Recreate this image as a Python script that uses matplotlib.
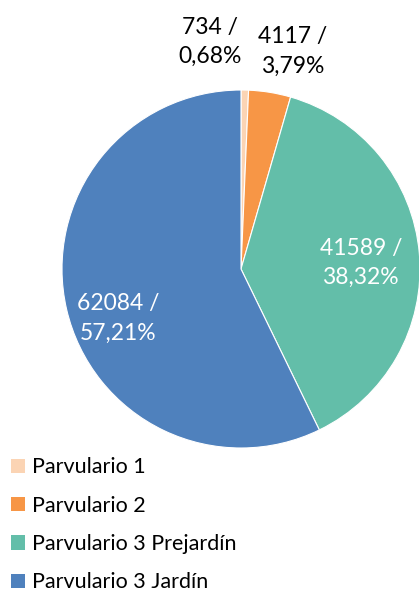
import numpy as np
import matplotlib.pyplot as plt
from matplotlib.patches import Patch

plt.rcParams['font.family'] = ['Lato', 'DejaVu Sans']

categories = ['Parvulario 1', 'Parvulario 2', 'Parvulario 3 Prejardín', 'Parvulario 3 Jardín']
values = [734, 4117, 41589, 62084]
percents = ['0,68%', '3,79%', '38,32%', '57,21%']
colors = ['#FBD4B4', '#F79646', '#63BEA9', '#4F81BD']

W, H = 419, 592
fig = plt.figure(figsize=(W / 100, H / 100), dpi=100)

# pie centre / radius in pixels
cx, cy, r = 241, 269, 179
ax = fig.add_axes([(cx - r) / W, (H - cy - r) / H, 2 * r / W, 2 * r / H])
wedges, _ = ax.pie(values, colors=colors, startangle=90, counterclock=False,
                   radius=1, wedgeprops=dict(edgecolor='white', linewidth=0.8))
ax.set_xlim(-1, 1)
ax.set_ylim(-1, 1)
ax.set_aspect('equal')
for w in wedges:
    w.set_clip_on(False)

# label placement: (distance, angle shift in degrees, colour)
place = [(1.28, 9, 'black'), (1.25, -4, 'black'), (0.67, -2, 'white'), (0.74, 9, 'white')]
for w, v, p, (d, shift, c) in zip(wedges, values, percents, place):
    ang = np.deg2rad((w.theta1 + w.theta2) / 2 + shift)
    ax.text(d * np.cos(ang), d * np.sin(ang), f'{v} /\n{p}', ha='center', va='center',
            fontsize=16.5, color=c, linespacing=1.5, clip_on=False)

handles = [Patch(facecolor=c, edgecolor='none') for c in colors]
fig.legend(handles, categories, loc='upper left', bbox_to_anchor=(0.01, 1 - 451 / H),
           frameon=False, fontsize=15.5, handlelength=0.65, handleheight=0.65,
           handletextpad=0.35, labelspacing=0.85, borderaxespad=0.1, borderpad=0.2)

fig.savefig('out.png', dpi=100)
